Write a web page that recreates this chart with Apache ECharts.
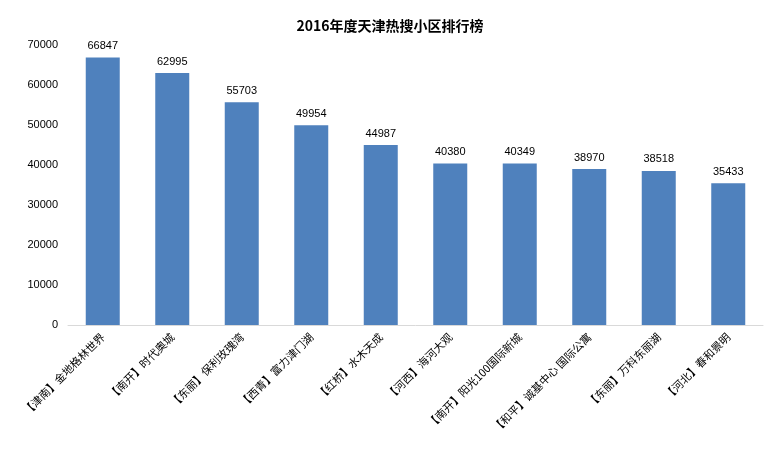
<!DOCTYPE html>
<html><head><meta charset="utf-8">
<script src="https://cdn.jsdelivr.net/npm/echarts@6/dist/echarts.min.js"></script>
<style>html,body{margin:0;padding:0;background:#fff}#c{width:780px;height:455px}</style>
</head><body><div id="c"></div>
<script>
const categories = ['【津南】金地格林世界','【南开】时代奥城','【东丽】保利玫瑰湾','【西青】富力津门湖','【红桥】水木天成','【河西】海河大观','【南开】阳光100国际新城','【和平】诚基中心 国际公寓','【东丽】万科东丽湖','【河北】春和景明'];
const values = [66847,62995,55703,49954,44987,40380,40349,38970,38518,35433];
const chart = echarts.init(document.getElementById('c'));
chart.setOption({
  animation:false,
  title:{text:'2016年度天津热搜小区排行榜',left:'center',top:14,textStyle:{fontSize:14,fontWeight:'bold',color:'#000',fontFamily:'Noto Sans CJK SC'}},
  grid:{left:68,right:17,top:45,bottom:130},
  xAxis:{type:'category',data:categories,axisTick:{show:false},axisLine:{lineStyle:{color:'#d9d9d9'}},
    axisLabel:{rotate:45,interval:0,color:'#000',fontSize:11,fontFamily:'Noto Sans CJK SC',margin:10}},
  yAxis:{type:'value',min:0,max:70000,interval:10000,splitLine:{show:false},axisLine:{show:false},axisTick:{show:false},
    axisLabel:{color:'#000',fontSize:11,margin:10,formatter:v=>String(v)}},
  series:[{type:'bar',data:values,barWidth:34,itemStyle:{color:'#4f81bd'},
    label:{show:true,position:'top',color:'#000',fontSize:11,distance:6}}]
});
</script></body></html>
